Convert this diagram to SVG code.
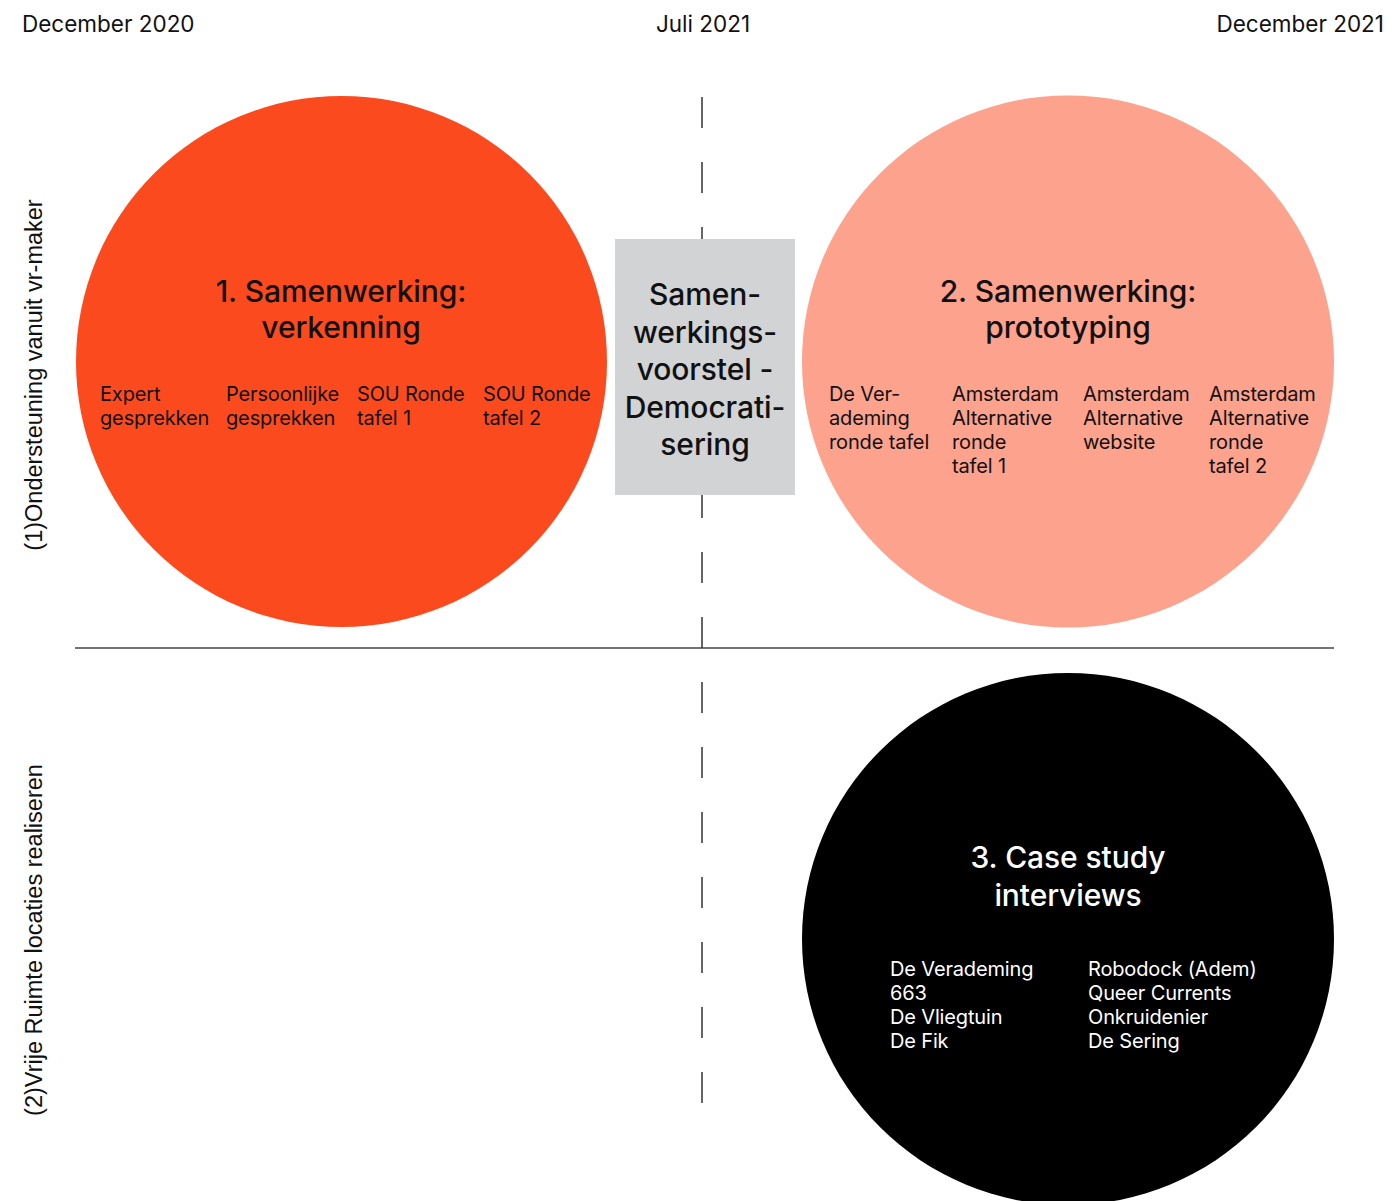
<svg xmlns="http://www.w3.org/2000/svg" width="1389" height="1201" viewBox="0 0 1389 1201">
<style>
  .date{font-family:Inter,"Liberation Sans",sans-serif;font-size:22.5px;fill:#111}
  .side{font-family:"Liberation Sans",Arial,sans-serif;font-size:23.5px;fill:#111}
  .title{font-family:Inter,"Liberation Sans",sans-serif;font-size:30px;font-weight:500;fill:#111;text-anchor:middle;letter-spacing:-0.1px}
  .body{font-family:Inter,"Liberation Sans",sans-serif;font-size:20px;fill:#111;letter-spacing:-0.15px}
  .w{fill:#fff}
</style>
<rect width="1389" height="1201" fill="#fff"/>
<text class="date" x="22" y="32">December 2020</text>
<text class="date" x="703" y="32" text-anchor="middle">Juli 2021</text>
<text class="date" x="1384" y="32" text-anchor="end">December 2021</text>
<text class="side" transform="translate(42,375) rotate(-90)" text-anchor="middle">(1)Ondersteuning vanuit vr-maker</text>
<text class="side" transform="translate(42,940) rotate(-90)" text-anchor="middle">(2)Vrije Ruimte locaties realiseren</text>
<g id="connectors">
  <line x1="75" y1="648" x2="1334" y2="648" stroke="#444" stroke-width="1.6"/>
  <line x1="702" y1="97" x2="702" y2="1108" stroke="#333" stroke-width="1.5" stroke-dasharray="31 34"/>
</g>
<g id="node1">
  <circle cx="341.5" cy="361.5" r="265.5" fill="#fc4a1f"/>
  <text class="title" x="341" y="302">1. Samenwerking:</text>
  <text class="title" x="341" y="338">verkenning</text>
  <text class="body"><tspan x="100" y="401">Expert</tspan><tspan x="100" y="425">gesprekken</tspan></text>
  <text class="body"><tspan x="226" y="401">Persoonlijke</tspan><tspan x="226" y="425">gesprekken</tspan></text>
  <text class="body"><tspan x="357" y="401">SOU Ronde</tspan><tspan x="357" y="425">tafel 1</tspan></text>
  <text class="body"><tspan x="483" y="401">SOU Ronde</tspan><tspan x="483" y="425">tafel 2</tspan></text>
</g>
<g id="node2">
  <circle cx="1068" cy="361.5" r="266" fill="#fda28d"/>
  <text class="title" x="1068" y="302">2. Samenwerking:</text>
  <text class="title" x="1068" y="338">prototyping</text>
  <text class="body"><tspan x="829" y="401">De Ver-</tspan><tspan x="829" y="425">ademing</tspan><tspan x="829" y="449">ronde tafel</tspan></text>
  <text class="body"><tspan x="952" y="401">Amsterdam</tspan><tspan x="952" y="425">Alternative</tspan><tspan x="952" y="449">ronde</tspan><tspan x="952" y="473">tafel 1</tspan></text>
  <text class="body"><tspan x="1083" y="401">Amsterdam</tspan><tspan x="1083" y="425">Alternative</tspan><tspan x="1083" y="449">website</tspan></text>
  <text class="body"><tspan x="1209" y="401">Amsterdam</tspan><tspan x="1209" y="425">Alternative</tspan><tspan x="1209" y="449">ronde</tspan><tspan x="1209" y="473">tafel 2</tspan></text>
</g>
<g id="node-voorstel">
  <rect x="615" y="239" width="180" height="256" fill="#d2d3d5"/>
  <text class="title" x="705" y="305">Samen-</text>
  <text class="title" x="705" y="343">werkings-</text>
  <text class="title" x="705" y="380">voorstel -</text>
  <text class="title" x="705" y="418">Democrati-</text>
  <text class="title" x="705" y="455">sering</text>
</g>
<g id="node3">
  <circle cx="1068" cy="939" r="266" fill="#000"/>
  <text class="title w" x="1068" y="868">3. Case study</text>
  <text class="title w" x="1068" y="906">interviews</text>
  <text class="body w"><tspan x="890" y="976">De Verademing</tspan><tspan x="890" y="1000">663</tspan><tspan x="890" y="1024">De Vliegtuin</tspan><tspan x="890" y="1048">De Fik</tspan></text>
  <text class="body w"><tspan x="1088" y="976">Robodock (Adem)</tspan><tspan x="1088" y="1000">Queer Currents</tspan><tspan x="1088" y="1024">Onkruidenier</tspan><tspan x="1088" y="1048">De Sering</tspan></text>
</g>
</svg>
